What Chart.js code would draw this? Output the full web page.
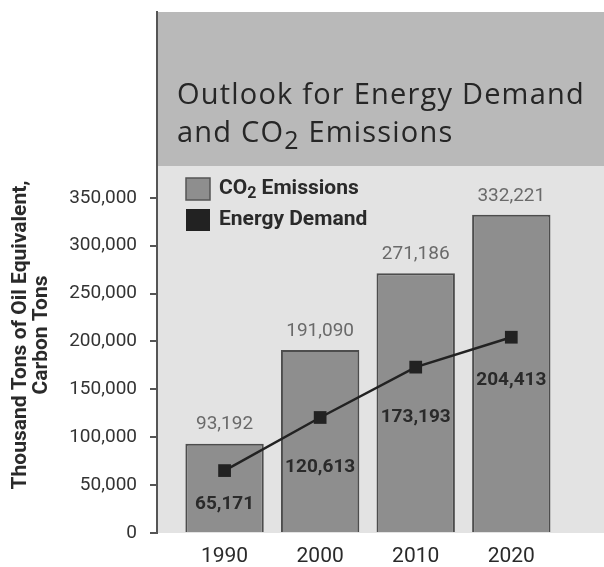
<!DOCTYPE html>
<html>
<head>
<meta charset="utf-8">
<script src="https://cdn.jsdelivr.net/npm/chart.js@4/dist/chart.umd.min.js"></script>
<style>
  html, body { margin: 0; padding: 0; background: #fff; }
  canvas { display: block; }
</style>
</head>
<body>
<canvas id="chart" width="604" height="567"></canvas>
<script>
const years = ["1990", "2000", "2010", "2020"];
const co2Emissions = [93192, 191090, 271186, 332221];
const energyDemand = [65171, 120613, 173193, 204413];
const yTicks = [0, 50000, 100000, 150000, 200000, 250000, 300000, 350000];

// how far below each square its label sits
const demandLabelGap = [34, 50, 50, 43];

const NARROW = "'Liberation Sans Narrow', Roboto, sans-serif";
const TITLE = "'Open Sans', sans-serif";
const fmt = v => v.toLocaleString("en-US");

// text with a lowered "2" for CO2
function drawSub(ctx, parts, x, y, font, subFont, drop) {
    parts.forEach(p => {
        ctx.font = p.sub ? subFont : font;
        ctx.fillText(p.t, x, y + (p.sub ? drop : 0));
        x += ctx.measureText(p.t).width;
    });
}

const decor = {
    id: "decor",
    beforeDraw(c) {
        const { ctx, chartArea: a } = c;
        const split = a.top + 154;
        ctx.save();
        ctx.fillStyle = "#b9b9b9";
        ctx.fillRect(a.left, a.top, c.width - a.left, split - a.top);
        ctx.fillStyle = "#e3e3e3";
        ctx.fillRect(a.left, split, c.width - a.left, a.bottom - split);
        ctx.restore();
    },
    afterDatasetsDraw(c) {
        const { ctx, chartArea: a } = c;
        const lineMeta = c.getDatasetMeta(0);
        const barMeta = c.getDatasetMeta(1);
        ctx.save();
        ctx.textAlign = "center";
        ctx.textBaseline = "middle";

        // bar values above the bars
        ctx.font = "19px " + NARROW;
        ctx.fillStyle = "#6a6a6a";
        barMeta.data.forEach((b, i) => ctx.fillText(fmt(co2Emissions[i]), b.x, b.y - 19));

        // demand values below the squares
        ctx.font = "bold 19px " + NARROW;
        ctx.fillStyle = "#2a2a2a";
        lineMeta.data.forEach((p, i) => ctx.fillText(fmt(energyDemand[i]), p.x, p.y + demandLabelGap[i]));

        // title
        ctx.textAlign = "left";
        ctx.textBaseline = "alphabetic";
        ctx.fillStyle = "#262626";
        ctx.letterSpacing = "1.2px";
        const tf = "29px " + TITLE;
        ctx.font = tf;
        ctx.fillText("Outlook for Energy Demand", a.left + 20, a.top + 92);
        drawSub(ctx, [{ t: "and CO" }, { t: "2", sub: true }, { t: " Emissions" }],
            a.left + 20, a.top + 130, tf, "25px " + TITLE, 7);
        ctx.letterSpacing = "0px";

        // legend
        const lx = a.left + 29;
        ctx.fillStyle = c.data.datasets[1].backgroundColor;
        ctx.strokeStyle = "#555";
        ctx.lineWidth = 1.5;
        ctx.fillRect(lx, a.top + 166, 24, 22);
        ctx.strokeRect(lx, a.top + 166, 24, 22);
        ctx.fillStyle = c.data.datasets[0].borderColor;
        ctx.fillRect(lx, a.top + 197, 24, 22);
        ctx.fillStyle = "#2a2a2a";
        ctx.textBaseline = "middle";
        drawSub(ctx, [{ t: "CO" }, { t: "2", sub: true }, { t: " Emissions" }],
            lx + 33, a.top + 177, "bold 21px " + NARROW, "bold 16px " + NARROW, 5);
        ctx.font = "bold 21px " + NARROW;
        ctx.fillText("Energy Demand", lx + 33, a.top + 208);

        // y axis title
        ctx.translate(0, 335);
        ctx.rotate(-Math.PI / 2);
        ctx.textAlign = "center";
        ctx.font = "bold 21px " + NARROW;
        ctx.fillText("Thousand Tons of Oil Equivalent,", 0, 21);
        ctx.fillText("Carbon Tons", 0, 42);
        ctx.restore();
    }
};

const ctx = document.getElementById("chart").getContext("2d");

new Chart(ctx, {
    type: "bar",
    data: {
        datasets: [{
            type: "line",
            label: "Energy Demand",
            data: energyDemand.map((v, i) => ({ x: i, y: v })),
            borderColor: "#222",
            borderWidth: 2.5,
            pointStyle: "rect",
            pointRadius: 9,
            pointBackgroundColor: "#222",
            pointBorderWidth: 0,
            order: 0
        }, {
            type: "bar",
            label: "CO2 Emissions",
            data: co2Emissions.map((v, i) => ({ x: i, y: v })),
            backgroundColor: "#8e8e8e",
            borderColor: "#4d4d4d",
            borderWidth: 2,
            categoryPercentage: 1,
            barPercentage: 0.82,
            order: 1
        }]
    },
    options: {
        responsive: false,
        animation: false,
        layout: { autoPadding: false, padding: { top: 12, right: 0, left: 0, bottom: 0 } },
        plugins: {
            legend: { display: false },
            tooltip: { enabled: false }
        },
        scales: {
            x: {
                type: "linear",
                min: -0.707,
                max: 3.97,
                offset: false,
                grid: { display: false, drawTicks: false },
                border: { display: false },
                ticks: {
                    stepSize: 1,
                    includeBounds: false,
                    padding: 11,
                    color: "#2a2a2a",
                    font: { family: NARROW, size: 21 },
                    callback: v => years[v] ?? ""
                },
                afterFit: s => { s.height = 34; s.paddingLeft = 0; s.paddingRight = 0; }
            },
            y: {
                min: 0,
                max: 544000,
                grid: { drawOnChartArea: false, drawTicks: true, tickLength: 7, color: "#555", lineWidth: 2 },
                border: { display: true, color: "#555", width: 2 },
                ticks: {
                    padding: 13,
                    color: "#333",
                    font: { family: NARROW, size: 19 },
                    callback: v => fmt(v)
                },
                afterBuildTicks: s => { s.ticks = yTicks.map(v => ({ value: v })); },
                afterFit: s => { s.width = 157; s.paddingTop = 0; s.paddingBottom = 0; }
            }
        }
    },
    plugins: [decor]
});
</script>
</body>
</html>
